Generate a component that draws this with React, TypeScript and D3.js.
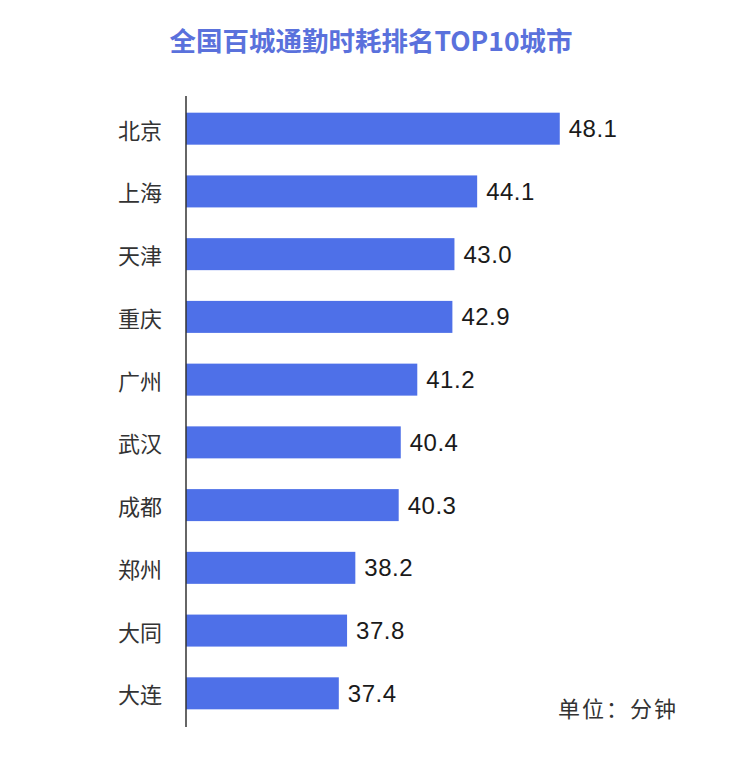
import { useEffect, useRef } from 'react';
import * as d3 from 'd3';

const cities = ['北京', '上海', '天津', '重庆', '广州', '武汉', '成都', '郑州', '大同', '大连'];
const minutes = [48.1, 44.1, 43.0, 42.9, 41.2, 40.4, 40.3, 38.2, 37.8, 37.4];
const title = '全国百城通勤时耗排名TOP10城市';
const unitLabel = '单位：分钟';

const W = 739;
const H = 768;

export default function App() {
  const ref = useRef<SVGSVGElement | null>(null);

  useEffect(() => {
    if (!ref.current) return;
    const svg = d3.select(ref.current);
    svg.selectAll('*').remove();

    const cjk = '"Noto Sans CJK SC", "Noto Sans", sans-serif';
    const num = '"Liberation Sans", Arial, sans-serif';

    const x = d3.scaleLinear().domain([30, 50]).range([186, 599]);
    const y = d3
      .scaleBand<string>()
      .domain(cities)
      .range([97, 725])
      .paddingInner(0.49)
      .paddingOuter(0.25);

    svg
      .append('text')
      .attr('x', 371)
      .attr('y', 39)
      .attr('text-anchor', 'middle')
      .attr('dominant-baseline', 'central')
      .attr('font-family', cjk)
      .attr('font-size', 26.5)
      .attr('font-weight', 700)
      .attr('fill', '#5a71dc')
      .text(title);

    const rows = cities.map((c, i) => ({ city: c, v: minutes[i] }));

    svg
      .append('g')
      .selectAll('rect')
      .data(rows)
      .join('rect')
      .attr('x', x(30))
      .attr('y', (d) => y(d.city)!)
      .attr('width', (d) => x(d.v) - x(30))
      .attr('height', y.bandwidth())
      .attr('fill', '#4e70e8');

    svg
      .append('g')
      .selectAll('text')
      .data(rows)
      .join('text')
      .attr('x', (d) => x(d.v) + 9)
      .attr('y', (d) => y(d.city)! + y.bandwidth() / 2)
      .attr('dominant-baseline', 'central')
      .attr('font-family', num)
      .attr('font-size', 24)
      .attr('letter-spacing', 0.5)
      .attr('fill', '#1a1a1a')
      .text((d) => d.v.toFixed(1));

    svg
      .append('g')
      .selectAll('text')
      .data(rows)
      .join('text')
      .attr('x', 162)
      .attr('y', (d) => y(d.city)! + y.bandwidth() / 2)
      .attr('text-anchor', 'end')
      .attr('dominant-baseline', 'central')
      .attr('font-family', cjk)
      .attr('font-size', 22)
      .attr('fill', '#333')
      .text((d) => d.city);

    svg
      .append('line')
      .attr('x1', 186)
      .attr('x2', 186)
      .attr('y1', 96)
      .attr('y2', 727)
      .attr('stroke', '#333')
      .attr('stroke-width', 1.5);

    svg
      .append('text')
      .attr('x', 558)
      .attr('y', 707)
      .attr('dominant-baseline', 'central')
      .attr('font-family', cjk)
      .attr('font-size', 22)
      .attr('letter-spacing', 2)
      .attr('fill', '#333')
      .text(unitLabel);
  }, []);

  return (
    <svg
      ref={ref}
      width={W}
      height={H}
      viewBox={`0 0 ${W} ${H}`}
      style={{ display: 'block', position: 'absolute', left: 0, top: 0, background: '#fff' }}
    />
  );
}
